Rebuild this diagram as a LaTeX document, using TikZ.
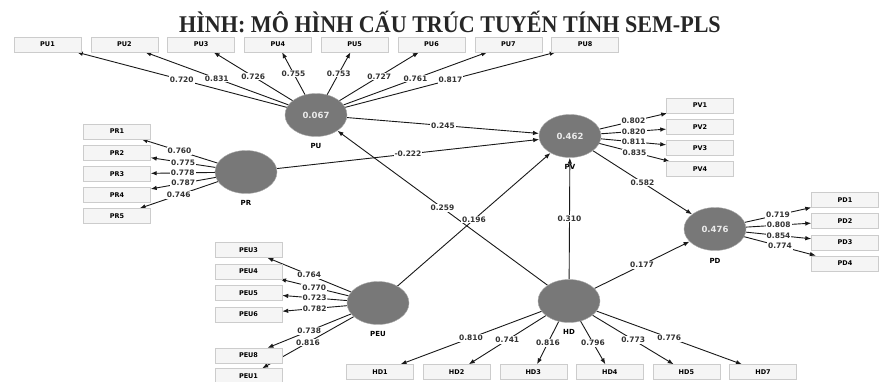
\documentclass[tikz,border=0pt]{standalone}
\usepackage{fontspec}
\usepackage{graphicx}
\setsansfont{DejaVu Sans}
\newfontfamily\titlefont{Liberation Serif}
\usetikzlibrary{positioning, shapes.geometric, arrows.meta}

\pgfdeclarelayer{paper}
\pgfdeclarelayer{edges}
\pgfsetlayers{paper,edges,main}

\begin{document}
\begin{tikzpicture}[
    x=1pt, y=-1pt,
    latent/.style={ellipse, draw=gray!70, fill=black!53, minimum width=62pt, minimum height=43pt, inner sep=0pt, text=white!92!black, font=\sffamily\bfseries\fontsize{8.5}{9}\selectfont},
    indic/.style={rectangle, draw=gray!40, fill=gray!8, minimum width=67pt, minimum height=15pt, inner sep=0pt, font=\sffamily\bfseries\fontsize{6.5}{7}\selectfont},
    lvname/.style={inner sep=0pt, font=\sffamily\bfseries\fontsize{7}{8}\selectfont},
    arrow/.style={-{Latex[length=6pt,width=4.5pt]}, line width=0.9pt, draw=black!90},
    coef/.style={fill=white, inner sep=1pt, font=\sffamily\bfseries\fontsize{7.5}{8}\selectfont, text=black!80}
]
    \useasboundingbox (0,0) rectangle (892,381);
    \begin{pgfonlayer}{paper}
        \fill[white] (0,0) rectangle (892,381);
    \end{pgfonlayer}

    % Title
    \node[font=\titlefont\bfseries\fontsize{24}{26}\selectfont, text=black!85] (title) at (450,22) {\scalebox{0.92}[1]{HÌNH: MÔ HÌNH CẤU TRÚC TUYẾN TÍNH SEM-PLS}};

    % Latent variables
    \node[latent] (PU) at (316,115) {0.067};
    \node[latent] (PR) at (246,172) {};
    \node[latent] (PV) at (570,136) {0.462};
    \node[latent] (PD) at (715,229) {0.476};
    \node[latent] (PEU) at (378,303) {};
    \node[latent] (HD) at (569,301) {};

    \node[lvname, below=6pt of PU] (PU-name) {PU};
    \node[lvname, below=6pt of PR] (PR-name) {PR};
    \node[lvname, below=6pt of PV] (PV-name) {PV};
    \node[lvname, below=7pt of PD] (PD-name) {PD};
    \node[lvname, below=6pt of PEU] (PEU-name) {PEU};
    \node[lvname, below=6pt of HD] (HD-name) {HD};

    % Indicators of PU
    \node[indic] (PU1) at (47.5,44.5) {PU1};
    \node[indic, right=9.4pt of PU1] (PU2) {PU2};
    \node[indic, right=9.4pt of PU2] (PU3) {PU3};
    \node[indic, right=9.4pt of PU3] (PU4) {PU4};
    \node[indic, right=9.4pt of PU4] (PU5) {PU5};
    \node[indic, right=9.4pt of PU5] (PU6) {PU6};
    \node[indic, right=9.4pt of PU6] (PU7) {PU7};
    \node[indic, right=9.4pt of PU7] (PU8) {PU8};

    % Indicators of PR
    \node[indic] (PR1) at (117,131.5) {PR1};
    \node[indic, below=5.75pt of PR1] (PR2) {PR2};
    \node[indic, below=5.75pt of PR2] (PR3) {PR3};
    \node[indic, below=5.75pt of PR3] (PR4) {PR4};
    \node[indic, below=5.75pt of PR4] (PR5) {PR5};

    % Indicators of PV
    \node[indic] (PV1) at (700,105.5) {PV1};
    \node[indic, below=5.8pt of PV1] (PV2) {PV2};
    \node[indic, below=5.8pt of PV2] (PV3) {PV3};
    \node[indic, below=5.8pt of PV3] (PV4) {PV4};

    % Indicators of PD
    \node[indic] (PD1) at (845,200) {PD1};
    \node[indic, below=5.7pt of PD1] (PD2) {PD2};
    \node[indic, below=5.7pt of PD2] (PD3) {PD3};
    \node[indic, below=5.7pt of PD3] (PD4) {PD4};

    % Indicators of PEU
    \node[indic] (PEU3) at (248.5,250) {PEU3};
    \node[indic, below=6pt of PEU3] (PEU4) {PEU4};
    \node[indic, below=6pt of PEU4] (PEU5) {PEU5};
    \node[indic, below=6pt of PEU5] (PEU6) {PEU6};
    \node[indic, below=26pt of PEU6] (PEU8) {PEU8};
    \node[indic, below=5pt of PEU8] (PEU1) {PEU1};

    % Indicators of HD
    \node[indic] (HD1) at (380,372) {HD1};
    \node[indic, right=9.2pt of HD1] (HD2) {HD2};
    \node[indic, right=9.2pt of HD2] (HD3) {HD3};
    \node[indic, right=9.2pt of HD3] (HD4) {HD4};
    \node[indic, right=9.2pt of HD4] (HD5) {HD5};
    \node[indic, right=9.2pt of HD5] (HD7) {HD7};

    \begin{pgfonlayer}{edges}
    % Outer loadings
    \draw[arrow] (PU) -- node[coef] {0.720} (PU1);
    \draw[arrow] (PU) -- node[coef] {0.831} (PU2);
    \draw[arrow] (PU) -- node[coef] {0.726} (PU3);
    \draw[arrow] (PU) -- node[coef] {0.755} (PU4);
    \draw[arrow] (PU) -- node[coef] {0.753} (PU5);
    \draw[arrow] (PU) -- node[coef] {0.727} (PU6);
    \draw[arrow] (PU) -- node[coef] {0.761} (PU7);
    \draw[arrow] (PU) -- node[coef] {0.817} (PU8);

    \draw[arrow] (PR) -- node[coef] {0.760} (PR1);
    \draw[arrow] (PR) -- node[coef] {0.775} (PR2);
    \draw[arrow] (PR) -- node[coef] {0.778} (PR3);
    \draw[arrow] (PR) -- node[coef] {0.787} (PR4);
    \draw[arrow] (PR) -- node[coef] {0.746} (PR5);

    \draw[arrow] (PV) -- node[coef] {0.802} (PV1);
    \draw[arrow] (PV) -- node[coef] {0.820} (PV2);
    \draw[arrow] (PV) -- node[coef] {0.811} (PV3);
    \draw[arrow] (PV) -- node[coef] {0.835} (PV4);

    \draw[arrow] (PD) -- node[coef] {0.719} (PD1);
    \draw[arrow] (PD) -- node[coef] {0.808} (PD2);
    \draw[arrow] (PD) -- node[coef] {0.854} (PD3);
    \draw[arrow] (PD) -- node[coef] {0.774} (PD4);

    \draw[arrow] (PEU) -- node[coef] {0.764} (PEU3);
    \draw[arrow] (PEU) -- node[coef] {0.770} (PEU4);
    \draw[arrow] (PEU) -- node[coef] {0.723} (PEU5);
    \draw[arrow] (PEU) -- node[coef] {0.782} (PEU6);
    \draw[arrow] (PEU) -- node[coef] {0.738} (PEU8);
    \draw[arrow] (PEU) -- node[coef] {0.816} (PEU1);

    \draw[arrow] (HD) -- node[coef] {0.810} (HD1);
    \draw[arrow] (HD) -- node[coef] {0.741} (HD2);
    \draw[arrow] (HD) -- node[coef] {0.816} (HD3);
    \draw[arrow] (HD) -- node[coef] {0.796} (HD4);
    \draw[arrow] (HD) -- node[coef] {0.773} (HD5);
    \draw[arrow] (HD) -- node[coef] {0.776} (HD7);

    % Path coefficients
    \draw[arrow] (HD) -- node[coef] {0.259} (PU);
    \draw[arrow] (PU) -- node[coef] {0.245} (PV);
    \draw[arrow] (PR) -- node[coef] {-0.222} (PV);
    \draw[arrow] (PEU) -- node[coef] {0.196} (PV);
    \draw[arrow] (HD) -- node[coef] {0.310} (PV);
    \draw[arrow] (PV) -- node[coef] {0.582} (PD);
    \draw[arrow] (HD) -- node[coef] {0.177} (PD);
    \end{pgfonlayer}
\end{tikzpicture}
\end{document}
